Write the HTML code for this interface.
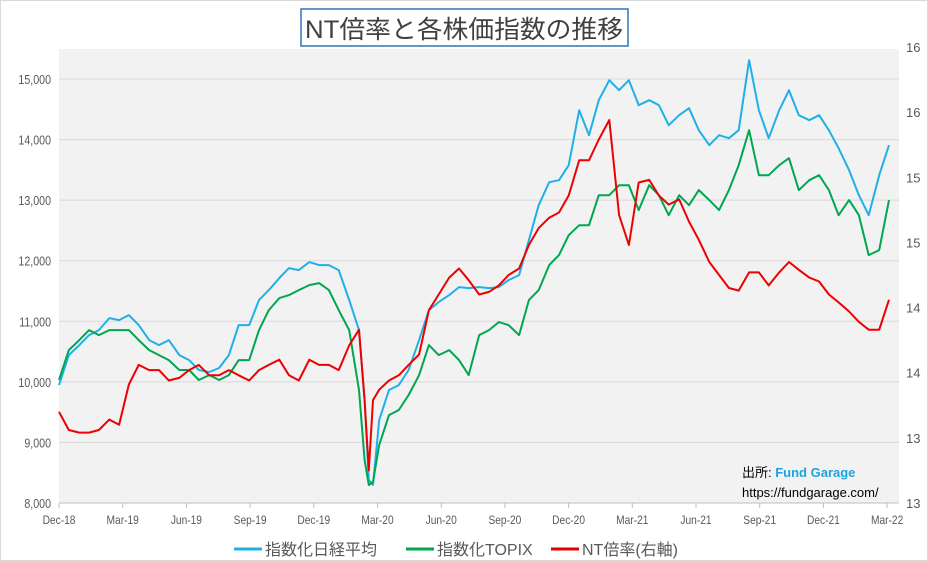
<!DOCTYPE html>
<html><head><meta charset="utf-8"><style>
html,body{margin:0;padding:0;background:#fff}
body{width:928px;height:561px;overflow:hidden;position:relative;font-family:"Liberation Sans","Noto Sans CJK JP",sans-serif}
#frame{position:absolute;left:0;top:0;width:926px;height:559px;border:1px solid #d9d9d9}
</style></head><body>
<div id="frame"></div>
<svg id="chart" width="928" height="561" style="position:absolute;left:0;top:0">
  <rect x="301" y="9" width="327" height="37" fill="#fff" stroke="#2e75b6" stroke-width="1.5"/>
  <text x="305" y="38" textLength="318" lengthAdjust="spacingAndGlyphs" font-size="25" fill="#404040" font-family="'Liberation Sans','Noto Sans CJK JP',sans-serif">NT倍率と各株価指数の推移</text>
  <rect x="59" y="49" width="840" height="454" fill="#f2f2f2"/>
  <g id="grid"></g>
  <g id="yleft"></g>
  <g id="yright"></g>
  <g id="xaxis"></g>
  <g id="series"></g>
  <text x="742" y="477" font-size="13" fill="#000" font-family="'Liberation Sans','Noto Sans CJK JP',sans-serif">出所: <tspan fill="#1fa3e0" font-weight="bold">Fund Garage</tspan></text>
  <text x="742" y="497" font-size="13" fill="#000">https://fundgarage.com/</text>
  <g font-size="16" fill="#595959" font-family="'Liberation Sans','Noto Sans CJK JP',sans-serif">
    <g><line x1="234" y1="549" x2="262" y2="549" stroke="#1fb0e8" stroke-width="3"/><text x="265" y="555">指数化日経平均</text></g>
    <g><line x1="406" y1="549" x2="434" y2="549" stroke="#00a650" stroke-width="3"/><text x="437" y="555">指数化TOPIX</text></g>
    <g><line x1="551" y1="549" x2="579" y2="549" stroke="#e00000" stroke-width="3"/><text x="582" y="555">NT倍率(右軸)</text></g>
  </g>
</svg>
<script>
const days=[0,14,29,43,57,72,86,100,114,129,143,157,172,186,200,215,229,243,257,272,286,300,315,329,343,358,372,386,400,415,429,437,443,449,458,472,486,500,515,529,543,558,572,586,601,615,629,643,658,672,686,701,715,729,744,758,772,787,801,815,829,844,858,872,887,901,915,930,944,958,972,987,1001,1015,1030,1044,1058,1073,1087,1101,1115,1130,1144,1158,1173,1187];
const nikkeiIdx=[9947,10442,10607,10772,10855,11053,11020,11102,10937,10690,10607,10690,10442,10360,10195,10162,10228,10442,10937,10937,11350,11515,11713,11878,11845,11977,11927,11927,11845,11350,10855,9700,8380,8297,9370,9865,9947,10195,10690,11185,11317,11432,11564,11548,11564,11548,11564,11680,11762,12340,12917,13297,13330,13577,14485,14072,14650,14980,14815,14980,14567,14650,14567,14237,14402,14518,14155,13907,14072,14023,14155,15310,14485,14023,14485,14815,14402,14320,14402,14155,13858,13495,13082,12752,13412,13907];
const topixIdx=[10030,10525,10690,10855,10772,10855,10855,10855,10690,10525,10442,10360,10195,10195,10030,10112,10030,10112,10360,10360,10855,11185,11383,11432,11515,11597,11630,11515,11185,10855,9865,8710,8297,8347,8957,9452,9535,9782,10112,10607,10442,10525,10360,10112,10772,10855,10987,10937,10772,11350,11515,11927,12092,12422,12587,12587,13082,13082,13247,13247,12835,13247,13082,12752,13082,12917,13165,13000,12835,13165,13577,14155,13412,13412,13577,13693,13165,13330,13412,13165,12752,13000,12752,12092,12175,13000];
const ntRatio=[13.70,13.56,13.54,13.54,13.56,13.64,13.60,13.91,14.06,14.02,14.02,13.94,13.96,14.02,14.06,13.98,13.98,14.02,13.98,13.94,14.02,14.06,14.10,13.98,13.94,14.10,14.06,14.06,14.02,14.21,14.33,13.79,13.25,13.79,13.87,13.94,13.98,14.06,14.14,14.48,14.60,14.73,14.80,14.71,14.60,14.62,14.67,14.75,14.80,14.98,15.11,15.19,15.23,15.36,15.63,15.63,15.79,15.94,15.21,14.98,15.46,15.48,15.36,15.29,15.33,15.16,15.02,14.85,14.75,14.65,14.63,14.77,14.77,14.67,14.77,14.85,14.79,14.73,14.70,14.60,14.54,14.47,14.39,14.33,14.33,14.56];
const leftTicks=[8000,9000,10000,11000,12000,13000,14000,15000];
const rightTicks=[13,13.5,14,14.5,15,15.5,16,16.5];
const xTickLabels=["Dec-18","Mar-19","Jun-19","Sep-19","Dec-19","Mar-20","Jun-20","Sep-20","Dec-20","Mar-21","Jun-21","Sep-21","Dec-21","Mar-22"];

const NS="http://www.w3.org/2000/svg";
const X0=59,X1=899,Y0=49,Y1=503;
const xs=d=>X0+d*(63.7/91.1);
const yL=v=>Y1-(v-8000)*(Y1-79)/7000;
const yR=v=>Y1-(v-13)*(Y1-47)/3.5;
function mk(tag,attrs,parent){const e=document.createElementNS(NS,tag);for(const k in attrs)e.setAttribute(k,attrs[k]);parent.appendChild(e);return e;}
const grid=document.getElementById('grid'),gl=document.getElementById('yleft'),gr=document.getElementById('yright'),gx=document.getElementById('xaxis'),gs=document.getElementById('series');
leftTicks.forEach(v=>{
  const y=yL(v);
  if(v>8000){const l=mk('line',{x1:X0,x2:X1,y1:y,y2:y,stroke:'#d9d9d9','stroke-width':1},grid);
  
  }
  const t=mk('text',{x:0,y:0,'text-anchor':'end','font-size':13,fill:'#595959',transform:'translate(51,'+(y+5)+') scale(0.82,1)'},gl);
  
  
  t.textContent=v.toLocaleString('en-US');
});
rightTicks.forEach(v=>{
  const t=mk('text',{x:906,y:yR(v)+5,'font-size':13,fill:'#595959'},gr);
  
  
  t.textContent=String(Math.floor(v));
});
const ax=mk('line',{x1:X0,x2:X1,y1:Y1,y2:Y1,stroke:'#bfbfbf','stroke-width':1},gx);


xTickLabels.forEach((s,i)=>{
  const x=xs(i*91.1);
  const tk=mk('line',{x1:x,x2:x,y1:Y1,y2:Y1+5,stroke:'#bfbfbf'},gx);
  
  
  const t=mk('text',{x:0,y:0,'text-anchor':'middle','font-size':12,fill:'#595959',transform:'translate('+x+',524) scale(0.85,1)'},gx);
  
  
  t.textContent=s;
});
function line(vals,yf,color,name){
  const d=vals.map((v,i)=>(i?'L':'M')+xs(days[i]).toFixed(1)+','+yf(v).toFixed(1)).join('');
  const p=mk('path',{d:d,fill:'none',stroke:color,'stroke-width':2,'stroke-linejoin':'round'},gs);
  
  
}
line(nikkeiIdx,yL,'#1fb0e8','nikkei-index-line');
line(topixIdx,yL,'#00a650','topix-index-line');
line(ntRatio,yR,'#ee0000','nt-ratio-line');
</script>
</body></html>
